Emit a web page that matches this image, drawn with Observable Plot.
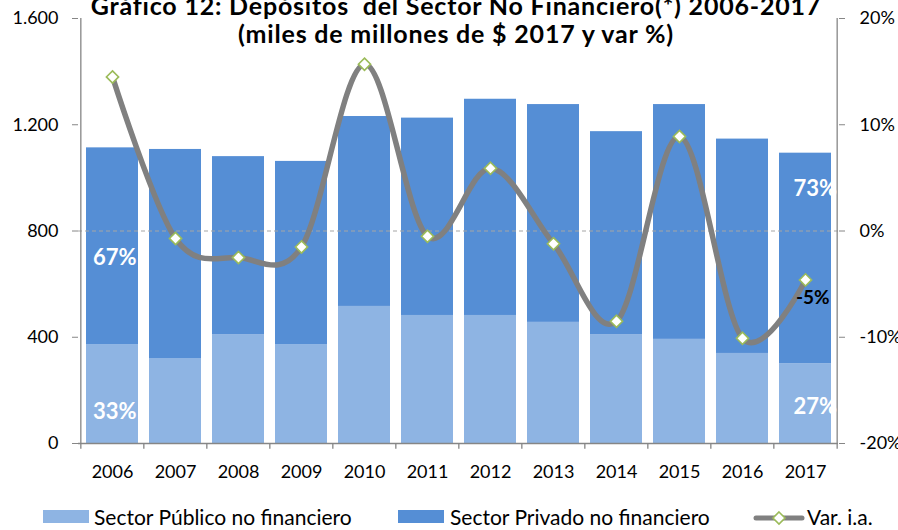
<!DOCTYPE html>
<html><head><meta charset="utf-8">
<script src="https://cdn.jsdelivr.net/npm/d3@7"></script>
<script src="https://cdn.jsdelivr.net/npm/@observablehq/plot@0.6"></script>
<style>
body{margin:0;background:#fff;font-family:Lato,sans-serif;color:#000;}
#wrap{position:relative;width:898px;height:530px;overflow:hidden;background:#fff;}
#chart{position:absolute;left:0;top:0;}
#title{position:absolute;left:0;width:912px;text-align:center;top:-9px;font-weight:bold;font-size:25px;letter-spacing:0.8px;line-height:28px;white-space:nowrap;}
.lg{position:absolute;top:505px;font-size:21px;line-height:24px;white-space:nowrap;}
.sw{position:absolute;width:46px;height:13px;}
</style></head>
<body><div id="wrap"><div id="chart"></div>
<div id="title">Gráfico 12: Depósitos&nbsp; del Sector No Financiero(*) 2006-2017<br>(miles de millones de $ 2017 y var %)</div>
<div class="sw" style="left:43px;top:510px;background:#8EB4E3"></div>
<div class="lg" style="left:94px">Sector Público no financiero</div>
<div class="sw" style="left:398px;top:510px;background:#558ED5"></div>
<div class="lg" style="left:450px">Sector Privado no financiero</div>
<svg style="position:absolute;left:752px;top:508px" width="54" height="20"><line x1="4" y1="10" x2="50" y2="10" stroke="#808080" stroke-width="5" stroke-linecap="round"/><path d="M27,4 L33,10 L27,16 L21,10 Z" fill="#fff" stroke="#9BBB59" stroke-width="1.6"/></svg>
<div class="lg" style="left:807px">Var. i.a.</div>
</div>
<script>
const years = ["2006","2007","2008","2009","2010","2011","2012","2013","2014","2015","2016","2017"];
const sectors = ["Sector Público no financiero","Sector Privado no financiero"];
const publico = [371,320,410,371,516,482,482,456,410,392,339,300];
const privado = [742,787,670,691,715,743,814,820,764,884,807,793];
const varIA = [14.5,-0.7,-2.5,-1.5,15.7,-0.5,5.9,-1.2,-8.5,8.9,-10.1,-4.6];
const yTicks = [0,400,800,1200,1600];
const pctTicks = ["-20%","-10%","0%","10%","20%"];
const firstShares = ["67%","33%"];
const lastShares = ["73%","27%"];
const lastLabel = "-5%";

const colors = ["#8EB4E3","#558ED5"];
const W = 898, H = 490, mL = 78, mR = 60, mT = 18, mB = 47;
const step = (W - mL - mR) / years.length;

const barData = [];
sectors.forEach((s, k) => years.forEach((y, i) => barData.push({year: y, sector: s, value: (k === 0 ? publico : privado)[i]})));
const lineData = years.map((y, i) => ({year: y, v: varIA[i]}));
const toY = v => (v + 20) * 40; // secondary axis: -20%..20% -> 0..1600
const firstData = firstShares.map((t, i) => ({year: years[0], text: t, at: [700, 118][i]}));
const lastData = lastShares.map((t, i) => ({year: years[years.length - 1], text: t, at: [960, 137][i]}));
const fmtK = d => d3.format(",")(d).replace(/,/g, ".");

const chart = Plot.plot({
  width: W, height: H, marginLeft: mL, marginRight: mR, marginTop: mT, marginBottom: mB,
  style: {fontFamily: "Lato, sans-serif", fontSize: "18px", color: "#000", background: "#fff", overflow: "visible"},
  x: {domain: years, paddingInner: 0.18, paddingOuter: 0.09},
  y: {domain: [0, 1600]},
  color: {domain: sectors, range: colors},
  marks: [
    Plot.barY(barData, {x: "year", y: "value", fill: "sector"}),
    Plot.ruleY([800], {stroke: "#A6A6A6", strokeDasharray: "4,3", strokeWidth: 1.2}),
    Plot.ruleY([0], {stroke: "#868686", strokeWidth: 1.3}),
    Plot.ruleX([years[0]], {dx: -step / 2, y1: 0, y2: 1600, stroke: "#868686", strokeWidth: 1.3}),
    Plot.ruleX([years[years.length - 1]], {dx: step / 2, y1: 0, y2: 1600, stroke: "#868686", strokeWidth: 1.3}),
    Plot.ruleX(years, {x: d => d, dx: -step / 2, y1: 0, y2: -22, stroke: "#868686", strokeWidth: 1.3}),
    Plot.ruleX([years[years.length - 1]], {dx: step / 2, y1: 0, y2: -22, stroke: "#868686", strokeWidth: 1.3}),
    Plot.axisY({anchor: "left", ticks: yTicks, tickSize: 6, tickPadding: 14, tickFormat: fmtK, stroke: "#868686", fill: "#000", label: null}),
    Plot.axisY({anchor: "right", ticks: yTicks, tickSize: 6, tickPadding: 15, tickFormat: d => pctTicks[yTicks.indexOf(d)], stroke: "#868686", fill: "#000", label: null}),
    Plot.axisX({tickSize: 0, tickPadding: 22, fill: "#000", label: null}),
    Plot.text(firstData, {x: "year", y: "at", text: "text", dx: -19.5, textAnchor: "start", fill: "#fff", fontWeight: "bold", fontSize: 22}),
    Plot.text(lastData, {x: "year", y: "at", text: "text", dx: -12, textAnchor: "start", fill: "#fff", fontWeight: "bold", fontSize: 22}),
    Plot.line(lineData, {x: "year", y: d => toY(d.v), curve: "cardinal", stroke: "#808080", strokeWidth: 5.5}),
    Plot.dot(lineData, {x: "year", y: d => toY(d.v), symbol: "diamond2", r: 5.5, fill: "#fff", stroke: "#9BBB59", strokeWidth: 1.6}),
    Plot.text([lineData[lineData.length - 1]], {x: "year", y: d => toY(d.v), text: () => lastLabel, dx: -9.5, dy: 18, textAnchor: "start", fill: "#000", fontWeight: "bold", fontSize: 19})
  ]
});
document.getElementById("chart").appendChild(chart);
</script>
</body></html>
